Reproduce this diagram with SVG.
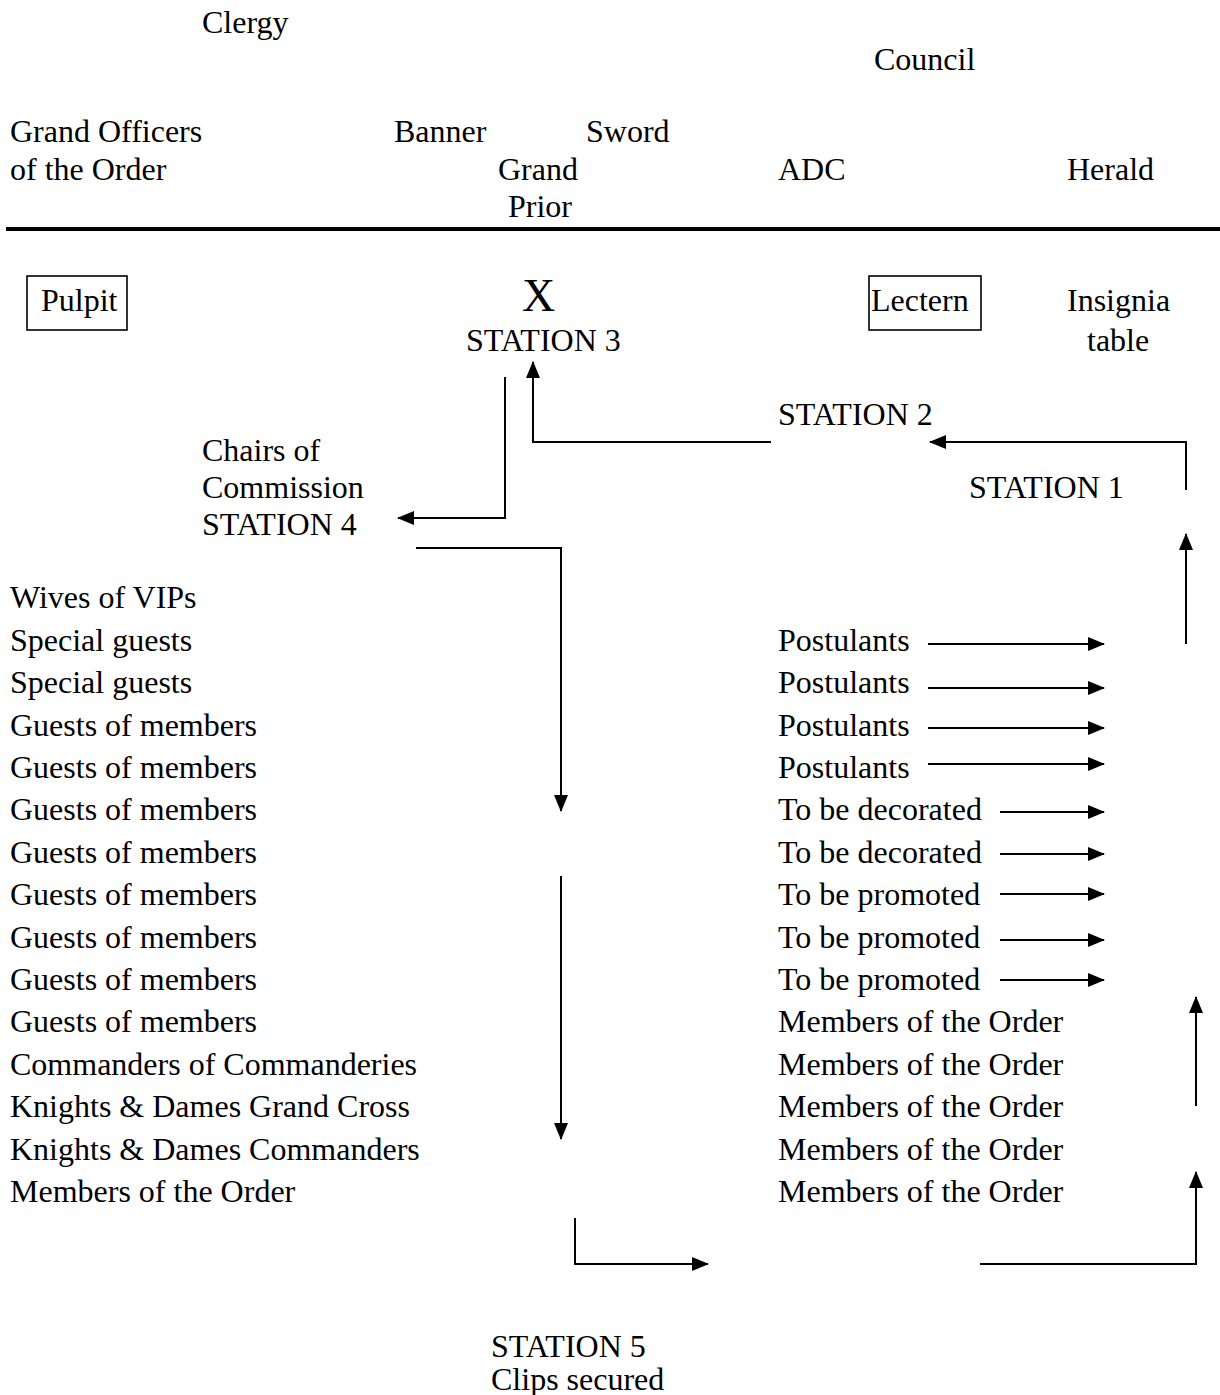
<svg xmlns="http://www.w3.org/2000/svg" width="1220" height="1395" viewBox="0 0 1220 1395">
<defs>
<style>
text{font-family:"Liberation Serif","Times New Roman",serif;font-size:32px;fill:#000}
.big{font-size:46px}
.box{fill:none;stroke:#000;stroke-width:1.6}
.c{fill:none;stroke:#000;stroke-width:2}
</style>
<marker id="ah" markerUnits="userSpaceOnUse" markerWidth="18" markerHeight="16" refX="16" refY="8" orient="auto">
<path d="M0,1 L17,8 L0,15 z" fill="#000"/>
</marker>
</defs>
<rect width="1220" height="1395" fill="#fff"/>
<g id="top">
<text id="clergy" x="202" y="33">Clergy</text>
<text id="council" x="874" y="70">Council</text>
<text x="10" y="142">Grand Officers</text>
<text x="10" y="180">of the Order</text>
<text x="394" y="142">Banner</text>
<text x="586" y="142">Sword</text>
<text x="498" y="180">Grand</text>
<text x="508" y="217">Prior</text>
<text x="778" y="180">ADC</text>
<text x="1067" y="180">Herald</text>
<line x1="6" y1="229" x2="1220" y2="229" stroke="#000" stroke-width="4"/>
</g>
<g id="pulpit"><rect class="box" x="27" y="276" width="100" height="54"/><text x="41" y="311">Pulpit</text></g>
<g id="station3"><text class="big" x="522" y="311">X</text><text x="466" y="351">STATION 3</text></g>
<g id="lectern"><rect class="box" x="869" y="276" width="112" height="54"/><text x="871" y="311">Lectern</text></g>
<g id="insignia"><text x="1067" y="311">Insignia</text><text x="1087" y="351">table</text></g>
<g id="station2"><text x="778" y="425">STATION 2</text></g>
<g id="station1"><text x="969" y="498">STATION 1</text></g>
<g id="station4"><text x="202" y="461">Chairs of</text><text x="202" y="498">Commission</text><text x="202" y="535">STATION 4</text></g>
<g id="left-column">
<text x="10" y="608">Wives of VIPs</text>
<text x="10" y="651">Special guests</text>
<text x="10" y="693">Special guests</text>
<text x="10" y="736">Guests of members</text>
<text x="10" y="778">Guests of members</text>
<text x="10" y="820">Guests of members</text>
<text x="10" y="863">Guests of members</text>
<text x="10" y="905">Guests of members</text>
<text x="10" y="948">Guests of members</text>
<text x="10" y="990">Guests of members</text>
<text x="10" y="1032">Guests of members</text>
<text x="10" y="1075">Commanders of Commanderies</text>
<text x="10" y="1117">Knights &amp; Dames Grand Cross</text>
<text x="10" y="1160">Knights &amp; Dames Commanders</text>
<text x="10" y="1202">Members of the Order</text>
</g>
<g id="right-column">
<text x="778" y="651">Postulants</text>
<text x="778" y="693">Postulants</text>
<text x="778" y="736">Postulants</text>
<text x="778" y="778">Postulants</text>
<text x="778" y="820">To be decorated</text>
<text x="778" y="863">To be decorated</text>
<text x="778" y="905">To be promoted</text>
<text x="778" y="948">To be promoted</text>
<text x="778" y="990">To be promoted</text>
<text x="778" y="1032">Members of the Order</text>
<text x="778" y="1075">Members of the Order</text>
<text x="778" y="1117">Members of the Order</text>
<text x="778" y="1160">Members of the Order</text>
<text x="778" y="1202">Members of the Order</text>
</g>
<g id="station5"><text x="491" y="1357">STATION 5</text><text x="491" y="1390">Clips secured</text></g>
<g id="connectors" class="c">
<path class="c" d="M1186,490 V442 H930" marker-end="url(#ah)"/>
<path class="c" d="M771,442 H533 V362" marker-end="url(#ah)"/>
<path class="c" d="M505,377 V518 H398" marker-end="url(#ah)"/>
<path class="c" d="M416,548 H561 V811" marker-end="url(#ah)"/>
<path class="c" d="M561,876 V1139" marker-end="url(#ah)"/>
<path class="c" d="M575,1218 V1264 H708" marker-end="url(#ah)"/>
<path class="c" d="M980,1264 H1196 V1172" marker-end="url(#ah)"/>
<path class="c" d="M1196,1106 V997" marker-end="url(#ah)"/>
<path class="c" d="M1186,644 V534" marker-end="url(#ah)"/>
<path class="c" d="M928,644 H1104" marker-end="url(#ah)"/>
<path class="c" d="M928,688 H1104" marker-end="url(#ah)"/>
<path class="c" d="M928,728 H1104" marker-end="url(#ah)"/>
<path class="c" d="M928,764 H1104" marker-end="url(#ah)"/>
<path class="c" d="M1000,812 H1104" marker-end="url(#ah)"/>
<path class="c" d="M1000,854 H1104" marker-end="url(#ah)"/>
<path class="c" d="M1000,894 H1104" marker-end="url(#ah)"/>
<path class="c" d="M1000,940 H1104" marker-end="url(#ah)"/>
<path class="c" d="M1000,980 H1104" marker-end="url(#ah)"/>
</g>
</svg>
